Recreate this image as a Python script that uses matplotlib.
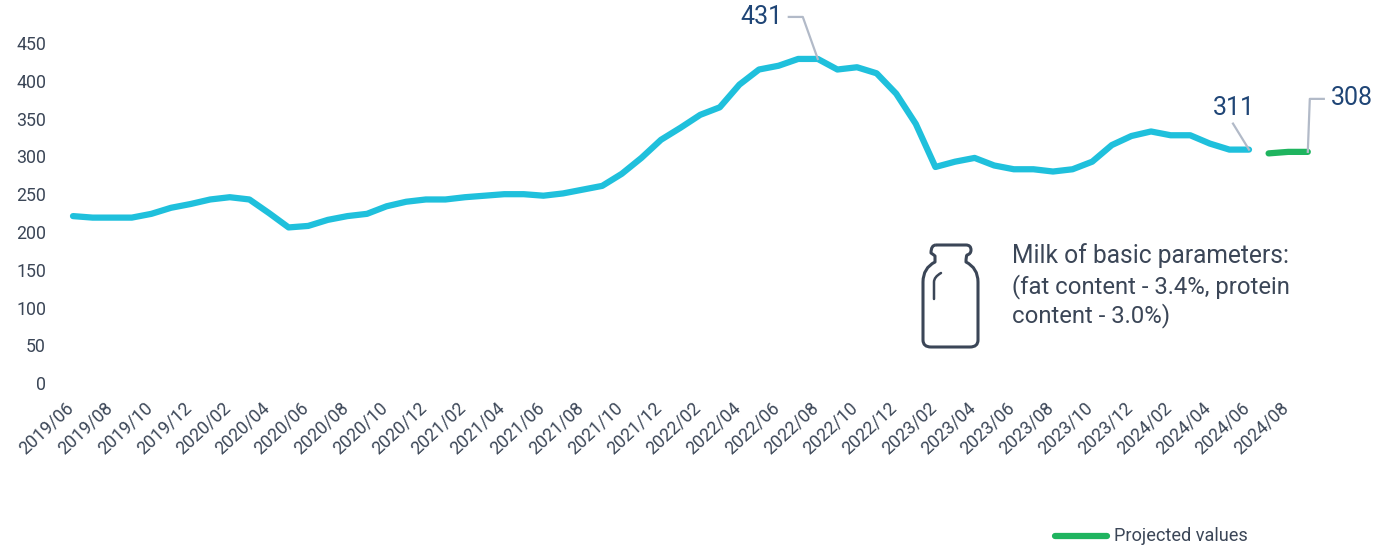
import matplotlib
matplotlib.use("Agg")
import matplotlib.pyplot as plt
from matplotlib.lines import Line2D
from matplotlib.path import Path
from matplotlib.patches import PathPatch
from matplotlib.transforms import ScaledTranslation

plt.rcParams['font.family'] = ['Roboto', 'DejaVu Sans']

months = [f"{y}/{m:02d}" for y in range(2019, 2025) for m in range(1, 13)][5:69]
actual = [223, 221, 221, 221, 226, 234, 239, 245, 248, 245, 227, 208, 210, 218, 223, 226,
          236, 242, 245, 245, 248, 250, 252, 252, 250, 253, 258, 263, 279, 300, 324, 340,
          357, 367, 397, 417, 422, 431, 431, 417, 420, 412, 385, 345, 288, 295, 300, 290,
          285, 285, 282, 285, 295, 317, 329, 335, 330, 330, 319, 311, 311]
projected = [306, 308, 308]
y_ticks = [0, 50, 100, 150, 200, 250, 300, 350, 400, 450]
callouts = [
    (38, 431, "431", [(0, 0), (-15, 42), (-29, 42)], (-35, 41.5), 'right'),
    (60, 311, "311", [(0, 0), (-16, 26)], (-15, 42), 'center'),
    (63, 308, "308", [(0, 0), (2, 53), (16, 53)], (23, 54), 'left'),
]

INK = '#3b4657'
NAVY = '#1f4576'
CYAN = '#1fc0dc'
GREEN = '#1fb45f'
LEAD = '#b2bac8'

W, H = 1394, 548
fig = plt.figure(figsize=(W / 100, H / 100), dpi=100)
L, R, T, B = 53, 1340, 30, 384.6
ax = fig.add_axes([L / W, 1 - B / H, (R - L) / W, (B - T) / H])
px_per_month = 19.6
ax.set_xlim((L - 73) / px_per_month, (R - 73) / px_per_month)
ax.set_ylim(0, (B - T) / 0.7556)

xa = list(range(len(actual)))
xp = list(range(len(actual), len(actual) + len(projected)))
ax.plot(xa, actual, color=CYAN, lw=4.5, solid_joinstyle='round', solid_capstyle='round', clip_on=False)
ax.plot(xp, projected, color=GREEN, lw=4.5, solid_joinstyle='round', solid_capstyle='round', clip_on=False)

for s in ax.spines.values():
    s.set_visible(False)
ax.patch.set_alpha(0)
ax.set_yticks(y_ticks)
ax.tick_params(axis='y', length=0, pad=5, labelsize=12.8, labelcolor=INK)
ax.set_xticks(xa[::2] + [xp[1]])
ax.set_xticklabels(months[:len(actual)][::2] + [months[xp[1]]], rotation=43, ha='right',
                   rotation_mode='anchor', fontsize=12.8, color=INK)
ax.tick_params(axis='x', length=0, pad=10.5)
shift_x = ScaledTranslation(-8 / 100, 0, fig.dpi_scale_trans)
for lab in ax.get_xticklabels():
    lab.set_transform(lab.get_transform() + shift_x)
shift_y = ScaledTranslation(0, 1.5 / 100, fig.dpi_scale_trans)
for lab in ax.get_yticklabels():
    lab.set_transform(lab.get_transform() + shift_y)

for xv, yv, txt, pts, tpos, ha in callouts:
    tr = fig.dpi_scale_trans + ScaledTranslation(xv, yv, ax.transData)
    ax.add_line(Line2D([p[0] / 100 for p in pts], [p[1] / 100 for p in pts], transform=tr,
                       color=LEAD, lw=1.6, clip_on=False, zorder=5))
    ax.text(tpos[0] / 100, tpos[1] / 100, txt, transform=tr, ha=ha, va='center',
            fontsize=18, color=NAVY, clip_on=False)

# Overlay in pixel coordinates for the icon and note
ov = fig.add_axes([0, 0, 1, 1])
ov.set_xlim(0, W)
ov.set_ylim(H, 0)
ov.axis('off')
M, C, LN = Path.MOVETO, Path.CURVE3, Path.LINETO
verts = [(936, 245), (966, 245),
         (971, 245), (971, 250), (971, 254), (967, 255), (966, 256), (966, 262),
         (978, 268), (978, 282), (978, 340),
         (978, 347), (970, 347), (931, 347),
         (923, 347), (923, 340), (923, 282),
         (923, 268), (935, 262), (935, 256),
         (934, 255), (931, 253), (931, 245), (936, 245)]
codes = [M, LN,
         C, C, C, C, C, C,
         C, C, LN,
         C, C, LN,
         C, C, LN,
         C, C, LN,
         C, C, C, C]
ov.add_patch(PathPatch(Path(verts, codes), fc='none', ec=INK, lw=2.2, joinstyle='round'))
ov.add_patch(PathPatch(Path([(934, 299), (934, 282), (934, 277), (941, 273)], [M, LN, C, C]),
                       fc='none', ec=INK, lw=1.8, capstyle='round'))
for yy, fs, line in zip((256, 287, 316), (17.7, 17.2, 17.2),
                        ("Milk of basic parameters:", "(fat content - 3.4%, protein", "content - 3.0%)")):
    ov.text(1012, yy, line, fontsize=fs, color=INK, va='center', ha='left')

ov.add_line(Line2D([1055, 1107], [536, 536], color=GREEN, lw=4.5, solid_capstyle='round'))
ov.text(1114, 536, "Projected values", fontsize=13.1, color=INK, va='center', ha='left')

fig.savefig("out.png", dpi=100)
